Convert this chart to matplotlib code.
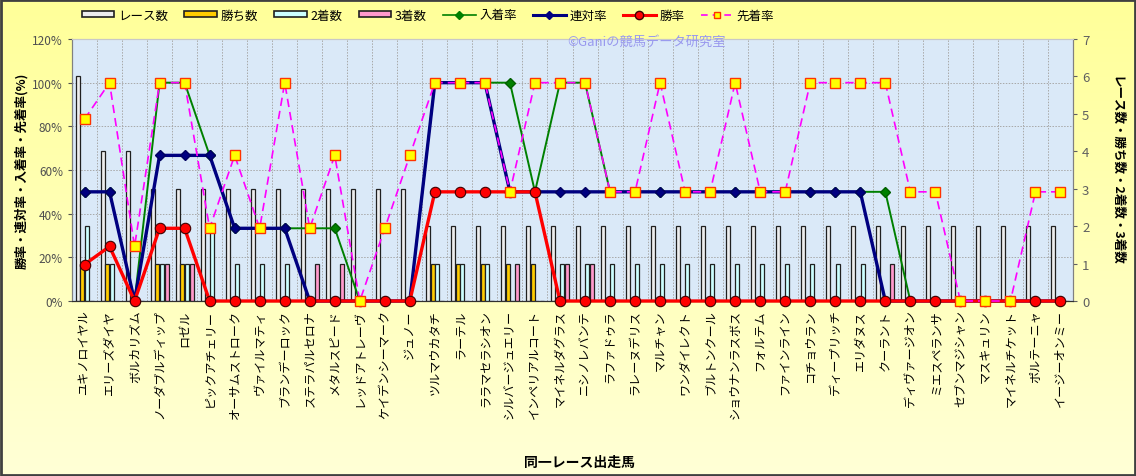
import numpy as np
import matplotlib
matplotlib.use("Agg")
import matplotlib.pyplot as plt
from matplotlib.patches import Rectangle
from matplotlib.lines import Line2D

plt.rcParams['font.family'] = ['Noto Sans CJK JP', 'DejaVu Sans']

# 出走馬
horses = [
    "ユキノロイヤル", "エリーズダイヤ", "ボルカリズム", "ノーダブルディップ", "ロゼル",
    "ピックアチェリー", "オーサムストローク", "ヴァイルマティ", "ブランデーロック", "ステラパルセロナ",
    "メタルスピード", "レッドアトレーヴ", "ケイデンシーマーク", "ジュノー", "ツルマウカタチ",
    "ラーテル", "ララマセラシオン", "シルバージュエリー", "インペリアルコート", "マイネルダグラス",
    "ニシノレバンテ", "ラファドゥラ", "ラレーヌデリス", "マルチャン", "ワンダイレクト",
    "ブルトンクール", "ショウナンラスボス", "フォルテム", "ファインライン", "コチョウラン",
    "ディープリッチ", "エリダヌス", "クーラント", "ディヴァージオン", "ミエスペランサ",
    "セブンマジシャン", "マスキュリン", "マイネルチケット", "ポルテーニャ", "イージーオンミー",
]

# 回数
races = [6, 4, 4, 3, 3, 3, 3, 3, 3, 3, 3, 3, 3, 3] + [2] * 26
wins = [1, 1, 0, 1, 1, 0, 0, 0, 0, 0, 0, 0, 0, 0, 1, 1, 1, 1, 1] + [0] * 21
seconds = [2, 1, 0, 1, 1, 2, 1, 1, 1, 0, 0, 0, 0, 0, 1, 1, 1, 0, 0, 1,
           1, 1, 1, 1, 1, 1, 1, 1, 1, 1, 1, 1, 0, 0, 0, 0, 0, 0, 0, 0]
thirds = [0, 0, 0, 1, 1, 0, 0, 0, 0, 1, 1, 0, 0, 0, 0, 0, 0, 1, 0, 1,
          1, 0, 0, 0, 0, 0, 0, 0, 0, 0, 0, 0, 1, 0, 0, 0, 0, 0, 0, 0]

# 率(%)
nyuchaku_rate = [50, 50, 0, 100, 100, 66.7, 33.3, 33.3, 33.3, 33.3, 33.3, 0, 0, 0,
                 100, 100, 100, 100, 50, 100, 100] + [50] * 12 + [0] * 7
rentai_rate = [50, 50, 0, 66.7, 66.7, 66.7, 33.3, 33.3, 33.3, 0, 0, 0, 0, 0,
               100, 100, 100] + [50] * 15 + [0] * 8
win_rate = [16.7, 25, 0, 33.3, 33.3, 0, 0, 0, 0, 0, 0, 0, 0, 0,
            50, 50, 50, 50, 50] + [0] * 21
senchaku_rate = [83.3, 100, 25, 100, 100, 33.3, 66.7, 33.3, 100, 33.3,
                 66.7, 0, 33.3, 66.7, 100, 100, 100, 50, 100, 100,
                 100, 50, 50, 100, 50, 50, 100, 50, 50, 100,
                 100, 100, 100, 50, 50, 0, 0, 0, 50, 50]

pct_ticks = [0, 20, 40, 60, 80, 100, 120]
cnt_ticks = [0, 1, 2, 3, 4, 5, 6, 7]

C_RACE = '#EDEDED'
C_WIN = '#FFCC00'
C_2ND = '#CCFFFF'
C_3RD = '#FF99CC'

fig = plt.figure(figsize=(11.36, 4.77), dpi=100)

# 背景グラデーション
bg = fig.add_axes([0, 0, 1, 1], zorder=-10)
grad = np.linspace(0, 1, 256).reshape(-1, 1)
top = np.array([1.0, 1.0, 0.60])
bot = np.array([1.0, 1.0, 0.84])
bg.imshow(top + (bot - top) * grad[:, :, None], aspect='auto', extent=[0, 1, 0, 1])
bg.set_xlim(0, 1)
bg.set_ylim(0, 1)
bg.axis('off')
bg.add_patch(Rectangle((0.001, 0.002), 0.998, 0.996, fill=False, ec='#404040', lw=2,
                       transform=bg.transAxes))

rect = [72 / 1136, 1 - 302 / 477, (1073 - 72) / 1136, (302 - 40) / 477]
ax2 = fig.add_axes(rect)   # 回数 (右軸)
ax = ax2.twinx()           # 率 (左軸)
ax.yaxis.tick_left()
ax.yaxis.set_label_position('left')
ax2.yaxis.tick_right()
ax2.yaxis.set_label_position('right')
ax.set_zorder(ax2.get_zorder() + 1)
ax.patch.set_visible(False)
ax2.set_facecolor('#DAE9F8')

x = np.arange(len(horses))
n = len(horses)

# グリッド (棒の背面)
for p in pct_ticks[1:-1]:
    ax2.axhline(p * 7 / 120, color='#A8A8A8', lw=0.7, ls=(0, (1.5, 1.5)), zorder=0.5)
for i in range(n - 1):
    ax2.axvline(i + 0.5, color='#A8A8A8', lw=0.7, ls=(0, (1.5, 1.5)), zorder=0.5)

bw = 0.16
ax2.bar(x - 0.28, races, bw, color=C_RACE, edgecolor='#202020', lw=0.9, zorder=2)
ax2.bar(x - 0.09, wins, bw, color=C_WIN, edgecolor='#202020', lw=0.9, zorder=2)
ax2.bar(x + 0.09, seconds, bw, color=C_2ND, edgecolor='#202020', lw=0.9, zorder=2)
ax2.bar(x + 0.28, thirds, bw, color=C_3RD, edgecolor='#202020', lw=0.9, zorder=2)

ax.plot(x, nyuchaku_rate, color='#008000', lw=1.4, marker='D', ms=5.5,
        mfc='#008000', mec='#006000', zorder=3, clip_on=False)
ax.plot(x, rentai_rate, color='#000080', lw=2.4, marker='D', ms=5.5,
        mfc='#000080', mec='#000060', zorder=4, clip_on=False)
ax.plot(x, win_rate, color='#FF0000', lw=2.4, marker='o', ms=7.5,
        mfc='#FF0000', mec='#400000', mew=0.8, zorder=5, clip_on=False)
ax.plot(x, senchaku_rate, color='#FF00FF', lw=1.2, ls=(0, (5, 3)), marker='s', ms=7,
        mfc='#FFFF00', mec='#FF3300', mew=1.0, zorder=6, clip_on=False)

ax.set_xlim(-0.5, n - 0.5)
ax2.set_xlim(-0.5, n - 0.5)
ax.set_ylim(0, 120)
ax2.set_ylim(0, 7)
ax.set_yticks(pct_ticks)
ax.set_yticklabels([f"{p}%" for p in pct_ticks])
ax2.set_yticks(cnt_ticks)
ax.tick_params(axis='y', labelsize=8.5, labelcolor='#505050', colors='#505050', length=3)
ax2.tick_params(axis='y', labelsize=9.5, labelcolor='#606060', colors='#606060', length=3)

ax2.set_xticks(x)
ax2.set_xticklabels(horses, rotation=90, fontsize=8.7, va='top', ha='center')
ax2.tick_params(axis='x', length=0, pad=6)
ax.tick_params(axis='x', length=0, labelbottom=False)

for a in (ax, ax2):
    for s in a.spines.values():
        s.set_color('#808080')
        s.set_linewidth(0.8)
    a.spines['top'].set_color('#C8C8C8')
    a.spines['bottom'].set_color('#303030')

ax.set_ylabel("勝率・連対率・入着率・先着率(%)", fontsize=9, fontweight='bold', labelpad=3)
ax2.set_ylabel("レース数・勝ち数・2着数・3着数", fontsize=9, fontweight='bold',
               rotation=270, labelpad=24)
fig.text(0.51, 1 - 463 / 477, "同一レース出走馬", ha='center', va='center',
         fontsize=10, fontweight='bold')

fig.text(647 / 1136, 1 - 42 / 477, "©Ganiの競馬データ研究室", ha='center', va='center',
         fontsize=9.5, color='#9999EE', zorder=20)

handles = [
    Rectangle((0, 0), 1, 1, fc=C_RACE, ec='#202020', lw=1.2),
    Rectangle((0, 0), 1, 1, fc=C_WIN, ec='#202020', lw=1.2),
    Rectangle((0, 0), 1, 1, fc=C_2ND, ec='#202020', lw=1.2),
    Rectangle((0, 0), 1, 1, fc=C_3RD, ec='#202020', lw=1.2),
    Line2D([], [], color='#008000', lw=1.2, marker='D', ms=4, mfc='#008000', mec='#008000'),
    Line2D([], [], color='#000080', lw=2.2, marker='D', ms=4, mfc='#000080', mec='#000080'),
    Line2D([], [], color='#FF0000', lw=2.2, marker='o', ms=6, mfc='#FF0000', mec='#400000'),
    Line2D([], [], color='#FF00FF', lw=1.2, ls=(0, (4, 3)), marker='s', ms=5,
           mfc='#FFFF00', mec='#FF3300'),
]
labels = ["レース数", "勝ち数", "2着数", "3着数", "入着率", "連対率", "勝率", "先着率"]
fig.legend(handles, labels, loc='center', bbox_to_anchor=(428 / 1136, 1 - 16 / 477),
           ncol=8, frameon=False, fontsize=9, handlelength=2.6, handleheight=0.45,
           handletextpad=0.3, columnspacing=1.3)

fig.savefig("out.png", dpi=100)
